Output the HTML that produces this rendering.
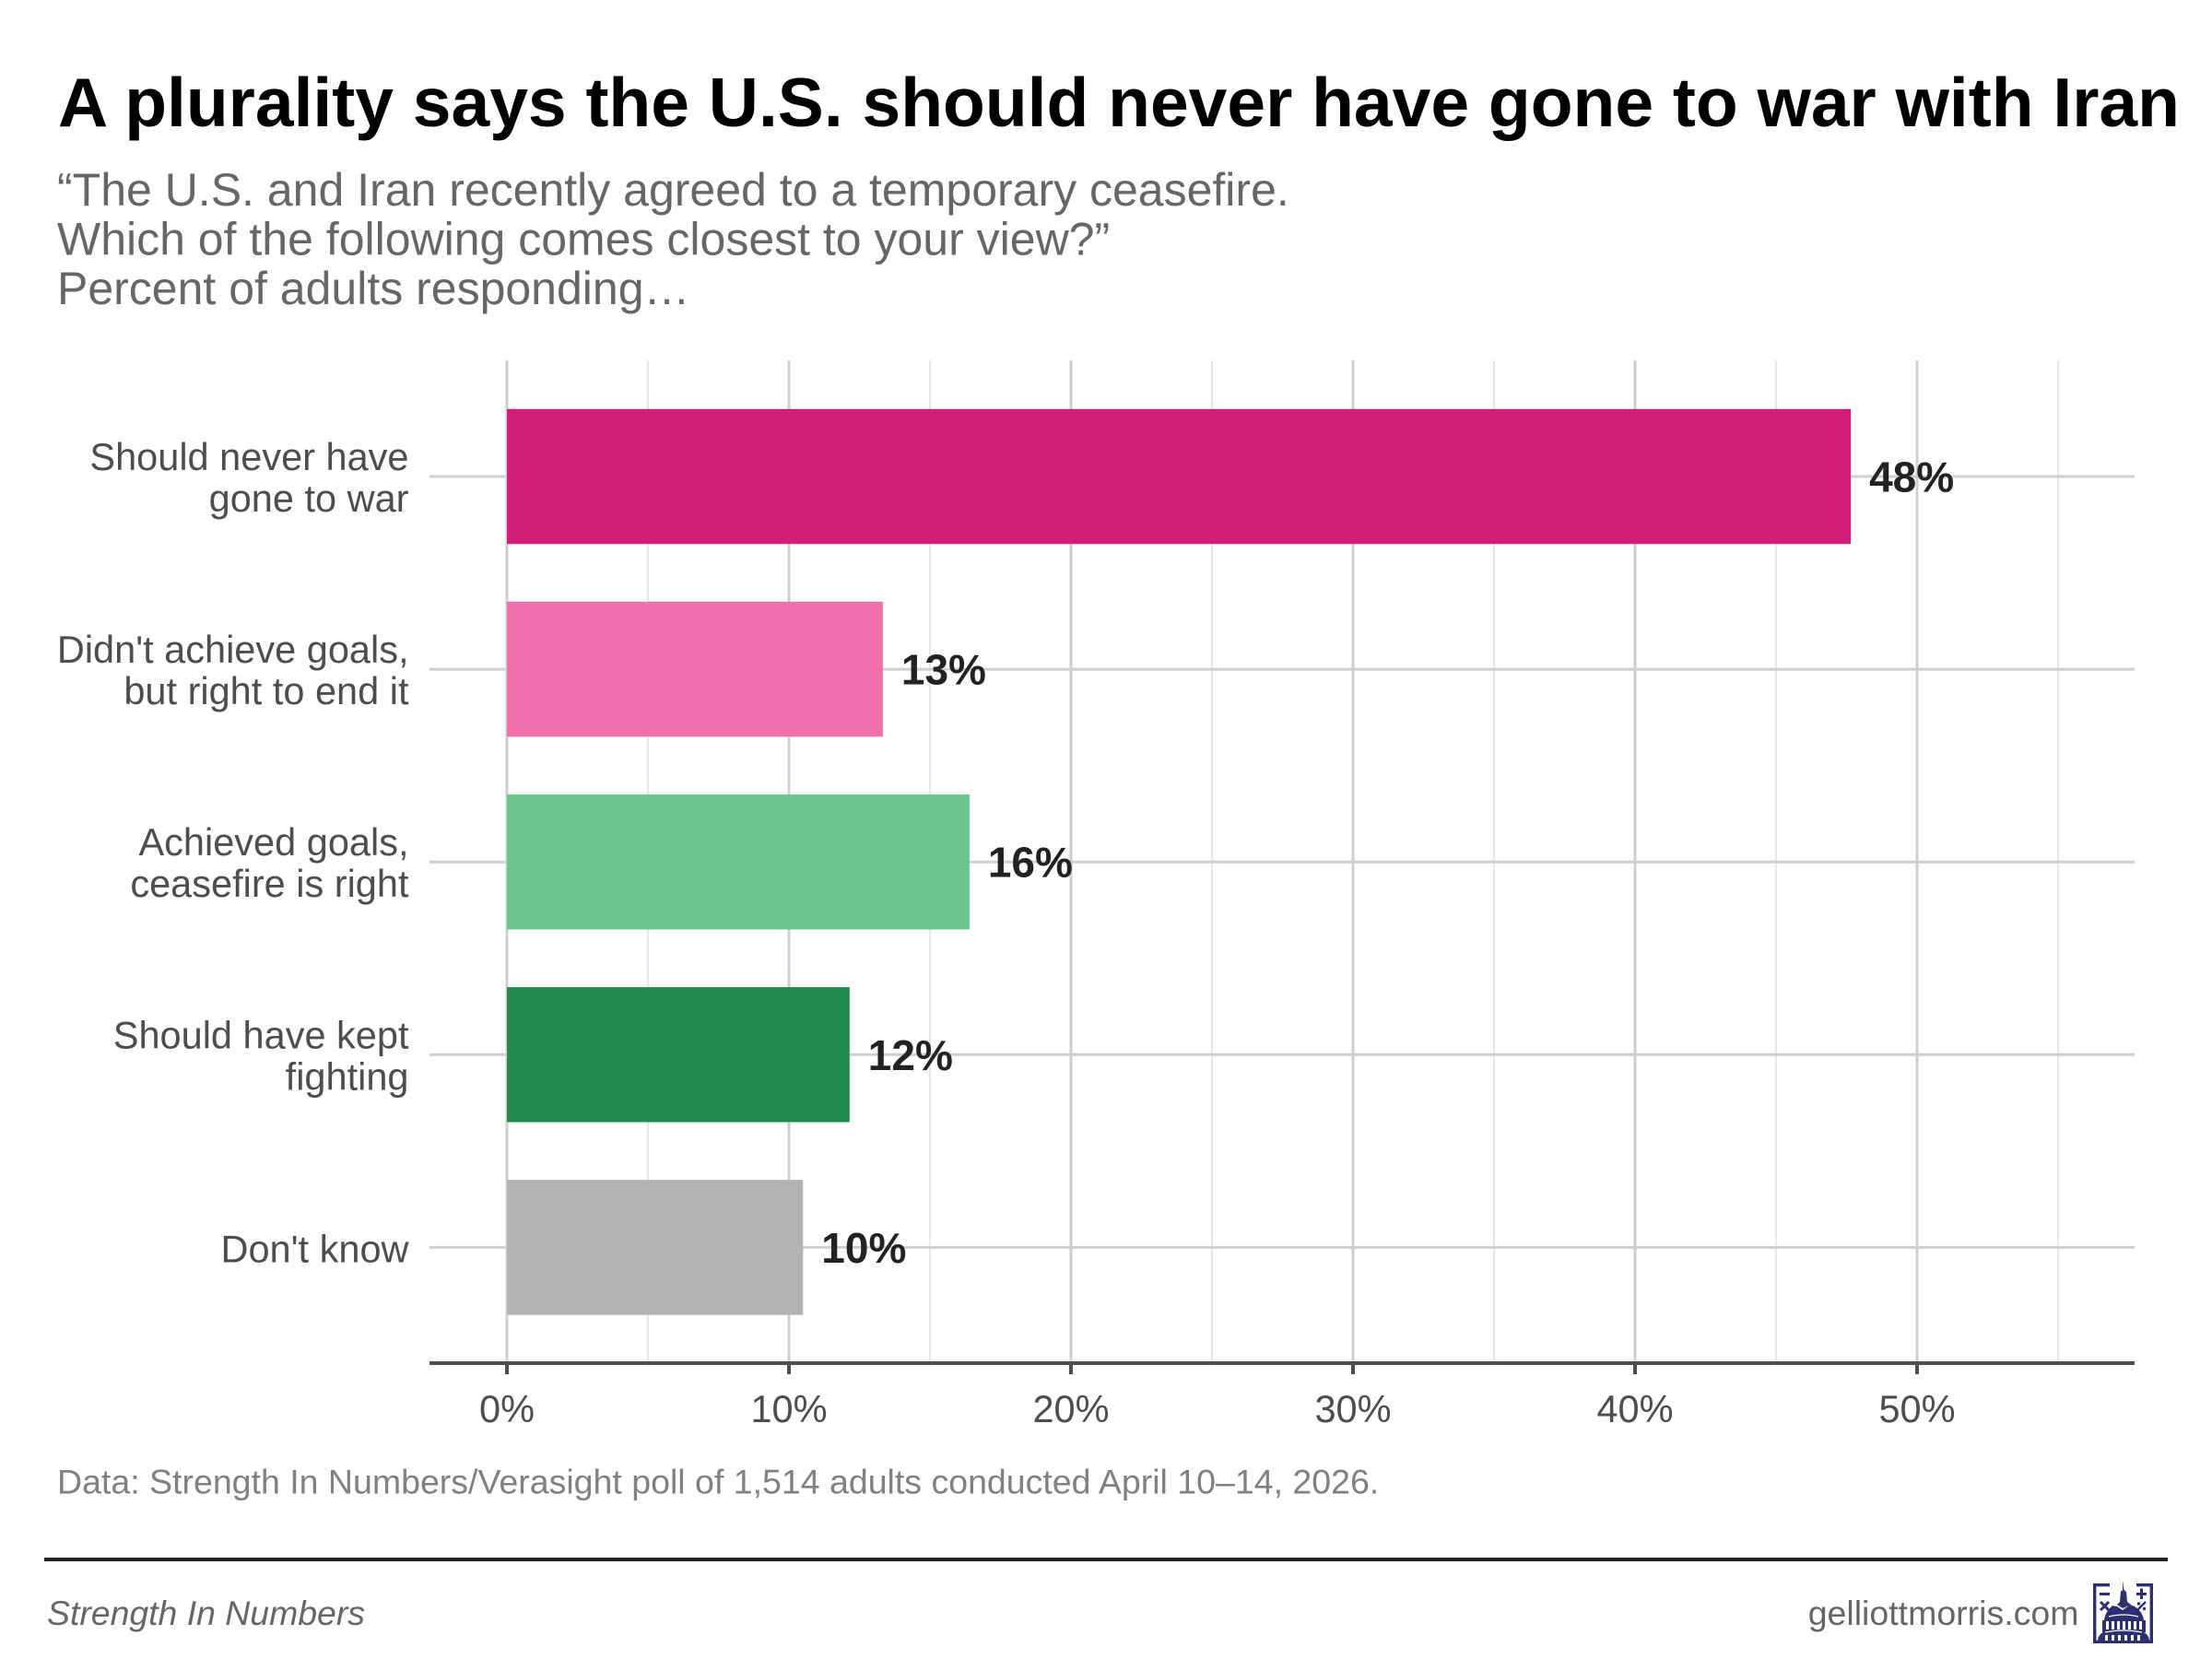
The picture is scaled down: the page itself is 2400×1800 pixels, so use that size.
<!DOCTYPE html>
<html lang="en">
<head>
<meta charset="utf-8">
<title>A plurality says the U.S. should never have gone to war with Iran</title>
<style>
html,body{margin:0;padding:0;background:#fff;width:2400px;height:1800px;overflow:hidden}
svg{display:block;font-family:"Liberation Sans",Arial,sans-serif}
</style>
</head>
<body>
<svg id="chart" width="2400" height="1800" viewBox="0 0 2400 1800" xmlns="http://www.w3.org/2000/svg">
  <rect width="2400" height="1800" fill="#ffffff"/>
  <text x="63" y="137" font-size="75" font-weight="700" fill="#000000">A plurality says the U.S. should never have gone to war with Iran</text>
  <text x="62" y="223" font-size="50" fill="#666666">“The U.S. and Iran recently agreed to a temporary ceasefire.</text>
  <text x="62" y="276.5" font-size="50" fill="#666666">Which of the following comes closest to your view?”</text>
  <text x="62" y="330" font-size="50" fill="#666666">Percent of adults responding…</text>
  <g id="grid"></g>
  <g id="bars"></g>
  <g id="axes"></g>
  <g id="labels"></g>
  <text x="62" y="1620.5" font-size="37.5" fill="#808080">Data: Strength In Numbers/Verasight poll of 1,514 adults conducted April 10–14, 2026.</text>
  <rect x="48" y="1690" width="2304" height="4" fill="#222222"/>
  <text x="51" y="1763" font-size="37.4" font-style="italic" fill="#666666">Strength In Numbers</text>
  <text x="2255.5" y="1763" font-size="37.5" fill="#666666" text-anchor="end">gelliottmorris.com</text>
  <g fill="#2e2f6e">
    <path d="M2289 1719.7H2272.7V1781.3H2334.3V1719.7H2318" fill="none" stroke="#2e2f6e" stroke-width="3.4"/>
    <rect x="2278" y="1728" width="11" height="3"/>
    <rect x="2318" y="1728" width="11" height="3"/>
    <rect x="2322" y="1723.5" width="3" height="11.5"/>
    <path d="M2279 1738l9 9M2288 1738l-9 9" stroke="#2e2f6e" stroke-width="3" fill="none"/>
    <path d="M2319 1747l9-9" stroke="#2e2f6e" stroke-width="2.4" fill="none"/>
    <circle cx="2320.5" cy="1740" r="1.7"/><circle cx="2326.5" cy="1745.5" r="1.7"/>
    <path d="M2303 1715l1.5 10 2.5 2 1 11 4 3-9 4-6-4 3-3 1-11 2-2z"/>
    <path d="M2283 1758Q2284 1749 2292 1742L2297 1743L2303 1747L2311 1741L2316 1743Q2325 1749 2326 1758Z"/>
    <rect x="2281" y="1758" width="47" height="13"/>
    <path d="M2276 1781Q2276 1773 2284 1770H2324Q2332 1773 2332 1781Z"/>
    <g fill="#ffffff">
      <rect x="2285" y="1759" width="3" height="9"/><rect x="2291" y="1759" width="3" height="9"/><rect x="2297" y="1759" width="3" height="9"/><rect x="2303" y="1759" width="3" height="9"/><rect x="2309" y="1759" width="3" height="9"/><rect x="2315" y="1759" width="3" height="9"/><rect x="2321" y="1759" width="3" height="9"/>
      <rect x="2284" y="1774" width="3" height="6"/><rect x="2291" y="1774" width="3" height="6"/><rect x="2298" y="1774" width="3" height="6"/><rect x="2305" y="1774" width="3" height="6"/><rect x="2312" y="1774" width="3" height="6"/><rect x="2319" y="1774" width="3" height="6"/>
      <path d="M2288 1754Q2304 1750 2320 1754" fill="none" stroke="#ffffff" stroke-width="1.3"/>
      <path d="M2284 1771Q2304 1767 2324 1771" fill="none" stroke="#ffffff" stroke-width="1.3"/>
    </g>
  </g>
</svg>
<script>
var categories = [
  ["Should never have", "gone to war"],
  ["Didn't achieve goals,", "but right to end it"],
  ["Achieved goals,", "ceasefire is right"],
  ["Should have kept", "fighting"],
  ["Don't know"]
];
var values = [47.65, 13.33, 16.4, 12.15, 10.5];
var valueLabels = ["48%", "13%", "16%", "12%", "10%"];
var barColors = ["#d11f79", "#f16fac", "#6bc48c", "#1f8a4c", "#b3b3b3"];
var majorTicks = [0, 10, 20, 30, 40, 50];
var tickLabels = ["0%", "10%", "20%", "30%", "40%", "50%"];
var minorTicks = [5, 15, 25, 35, 45, 55];

var SVG_NS = "http://www.w3.org/2000/svg";
var plotTop = 391, plotBottom = 1479, plotLeft = 466, plotRight = 2316;
function xScale(v) { return 550 + v * 30.6; }
function yScale(i) { return 517 + i * 209.1; }
var barHeight = 146.5;

function make(parent, tag, attrs, text) {
  var el = document.createElementNS(SVG_NS, tag);
  for (var k in attrs) { el.setAttribute(k, attrs[k]); }
  if (text !== undefined) { el.textContent = text; }
  parent.appendChild(el);
  return el;
}
var grid = document.getElementById("grid");
var bars = document.getElementById("bars");
var axes = document.getElementById("axes");
var labels = document.getElementById("labels");

minorTicks.forEach(function (t) {
  var el = make(grid, "line", {x1: xScale(t), x2: xScale(t), y1: plotTop, y2: plotBottom, stroke: "#e8e8e8", "stroke-width": 2});
  
  
});
majorTicks.forEach(function (t) {
  var el = make(grid, "line", {x1: xScale(t), x2: xScale(t), y1: plotTop, y2: plotBottom, stroke: "#cfcfcf", "stroke-width": 3});
  
  
});
categories.forEach(function (c, i) {
  var gl = make(grid, "line", {x1: plotLeft, x2: plotRight, y1: yScale(i), y2: yScale(i), stroke: "#cfcfcf", "stroke-width": 3});
  
  

  var bar = make(bars, "rect", {x: xScale(0), y: yScale(i) - barHeight / 2, width: xScale(values[i]) - xScale(0), height: barHeight, fill: barColors[i]});
  
  

  var lab = make(labels, "text", {x: xScale(values[i]) + 20, y: yScale(i) + 16.5, "font-size": 46, "font-weight": 700, fill: "#222222"}, valueLabels[i]);
  
  

  var first = c.length === 2 ? yScale(i) - 7 : yScale(i) + 16;
  c.forEach(function (line, j) {
    var t = make(axes, "text", {x: 443.5, y: first + j * 45, "font-size": 41.5, fill: "#4d4d4d", "text-anchor": "end"}, line);
    
    
  });
});
var axisLine = make(axes, "line", {x1: plotLeft, x2: plotRight, y1: 1479, y2: 1479, stroke: "#4d4d4d", "stroke-width": 4});


majorTicks.forEach(function (t, i) {
  var tick = make(axes, "line", {x1: xScale(t), x2: xScale(t), y1: 1479, y2: 1491, stroke: "#4d4d4d", "stroke-width": 4});
  
  
  var label = make(axes, "text", {x: xScale(t), y: 1543, "font-size": 41.5, fill: "#4d4d4d", "text-anchor": "middle"}, tickLabels[i]);
  
  
});
</script>
</body>
</html>
